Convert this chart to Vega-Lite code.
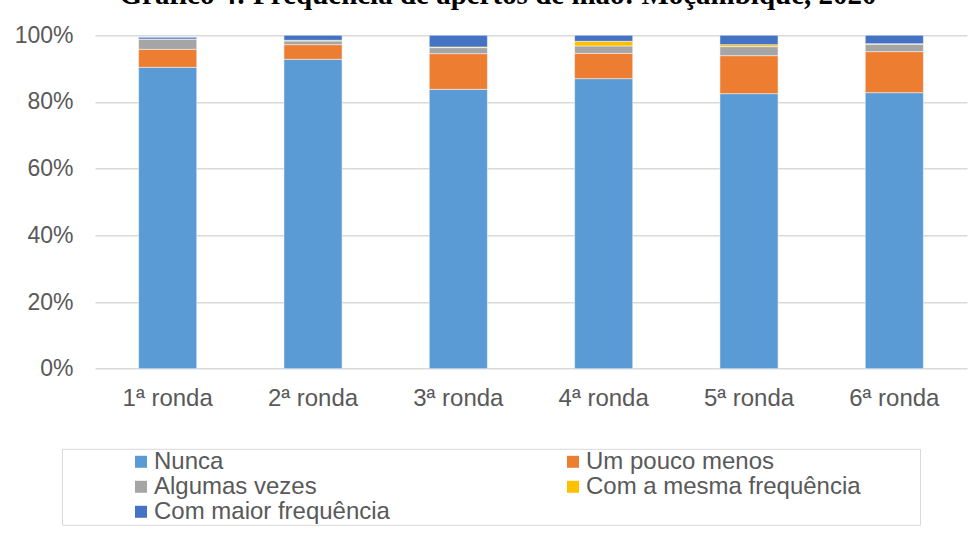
{
  "$schema": "https://vega.github.io/schema/vega-lite/v6.json",
  "width": 872,
  "height": 333.4,
  "autosize": {"type": "none"},
  "padding": {"left": 95, "top": 35.3, "right": 7, "bottom": 164},
  "background": "white",
  "title": {
    "text": "Gráfico 4: Frequência de apertos de mão: Moçambique, 2020",
    "font": "Liberation Serif",
    "fontSize": 29,
    "fontWeight": "bold",
    "color": "#000000",
    "anchor": "middle",
    "baseline": "alphabetic",
    "offset": -9,
    "dx": -33
  },
  "data": {
    "values": [
      {"ronda": "1ª ronda", "resposta": "Nunca", "ordem": 1, "pct": 90.4},
      {"ronda": "1ª ronda", "resposta": "Um pouco menos", "ordem": 2, "pct": 5.4},
      {"ronda": "1ª ronda", "resposta": "Algumas vezes", "ordem": 3, "pct": 3.1},
      {"ronda": "1ª ronda", "resposta": "Com a mesma frequência", "ordem": 4, "pct": 0.0},
      {"ronda": "1ª ronda", "resposta": "Com maior frequência", "ordem": 5, "pct": 0.5},
      {"ronda": "2ª ronda", "resposta": "Nunca", "ordem": 1, "pct": 92.8},
      {"ronda": "2ª ronda", "resposta": "Um pouco menos", "ordem": 2, "pct": 4.4},
      {"ronda": "2ª ronda", "resposta": "Algumas vezes", "ordem": 3, "pct": 1.1},
      {"ronda": "2ª ronda", "resposta": "Com a mesma frequência", "ordem": 4, "pct": 0.2},
      {"ronda": "2ª ronda", "resposta": "Com maior frequência", "ordem": 5, "pct": 1.5},
      {"ronda": "3ª ronda", "resposta": "Nunca", "ordem": 1, "pct": 83.8},
      {"ronda": "3ª ronda", "resposta": "Um pouco menos", "ordem": 2, "pct": 10.7},
      {"ronda": "3ª ronda", "resposta": "Algumas vezes", "ordem": 3, "pct": 1.8},
      {"ronda": "3ª ronda", "resposta": "Com a mesma frequência", "ordem": 4, "pct": 0.2},
      {"ronda": "3ª ronda", "resposta": "Com maior frequência", "ordem": 5, "pct": 3.5},
      {"ronda": "4ª ronda", "resposta": "Nunca", "ordem": 1, "pct": 87.0},
      {"ronda": "4ª ronda", "resposta": "Um pouco menos", "ordem": 2, "pct": 7.6},
      {"ronda": "4ª ronda", "resposta": "Algumas vezes", "ordem": 3, "pct": 2.2},
      {"ronda": "4ª ronda", "resposta": "Com a mesma frequência", "ordem": 4, "pct": 1.4},
      {"ronda": "4ª ronda", "resposta": "Com maior frequência", "ordem": 5, "pct": 1.8},
      {"ronda": "5ª ronda", "resposta": "Nunca", "ordem": 1, "pct": 82.5},
      {"ronda": "5ª ronda", "resposta": "Um pouco menos", "ordem": 2, "pct": 11.4},
      {"ronda": "5ª ronda", "resposta": "Algumas vezes", "ordem": 3, "pct": 2.7},
      {"ronda": "5ª ronda", "resposta": "Com a mesma frequência", "ordem": 4, "pct": 0.6},
      {"ronda": "5ª ronda", "resposta": "Com maior frequência", "ordem": 5, "pct": 2.8},
      {"ronda": "6ª ronda", "resposta": "Nunca", "ordem": 1, "pct": 82.8},
      {"ronda": "6ª ronda", "resposta": "Um pouco menos", "ordem": 2, "pct": 12.3},
      {"ronda": "6ª ronda", "resposta": "Algumas vezes", "ordem": 3, "pct": 2.2},
      {"ronda": "6ª ronda", "resposta": "Com a mesma frequência", "ordem": 4, "pct": 0.2},
      {"ronda": "6ª ronda", "resposta": "Com maior frequência", "ordem": 5, "pct": 2.5}
    ]
  },
  "mark": {"type": "bar", "stroke": "white", "strokeWidth": 0.5},
  "encoding": {
    "x": {
      "field": "ronda",
      "type": "nominal",
      "sort": null,
      "scale": {"paddingInner": 0.6, "paddingOuter": 0.3},
      "axis": {
        "title": null,
        "labelAngle": 0,
        "domain": false,
        "ticks": false,
        "labelPadding": 18,
        "labelFont": "Liberation Sans",
        "labelFontSize": 24,
        "labelColor": "#595959"
      }
    },
    "y": {
      "field": "pct",
      "type": "quantitative",
      "stack": "zero",
      "scale": {"domain": [0, 100], "nice": false},
      "axis": {
        "title": null,
        "values": [0, 20, 40, 60, 80, 100],
        "labelExpr": "datum.value + '%'",
        "domain": false,
        "ticks": false,
        "labelPadding": 22,
        "labelFont": "Liberation Sans",
        "labelFontSize": 23,
        "labelColor": "#595959",
        "gridColor": "#d9d9d9",
        "gridWidth": 1.5
      }
    },
    "color": {
      "field": "resposta",
      "type": "nominal",
      "scale": {
        "domain": ["Nunca", "Um pouco menos", "Algumas vezes", "Com a mesma frequência", "Com maior frequência"],
        "range": ["#5B9BD5", "#ED7D31", "#A5A5A5", "#FFC000", "#4472C4"]
      },
      "legend": {
        "title": " ",
        "titleOrient": "right",
        "titlePadding": 58,
        "titleFontSize": 4,
        "orient": "none",
        "legendX": -33,
        "legendY": 413.5,
        "columns": 2,
        "direction": "horizontal",
        "symbolType": "square",
        "symbolSize": 144,
        "symbolStrokeWidth": 0,
        "symbolOffset": 66,
        "labelFont": "Liberation Sans",
        "labelFontSize": 24,
        "labelColor": "#595959",
        "labelOffset": 1,
        "labelLimit": 400,
        "rowPadding": 1,
        "columnPadding": 104,
        "padding": 1,
        "strokeColor": "#d9d9d9",
        "fillColor": "white"
      }
    },
    "order": {"field": "ordem", "type": "quantitative"}
  },
  "config": {
    "view": {"stroke": null}
  }
}
